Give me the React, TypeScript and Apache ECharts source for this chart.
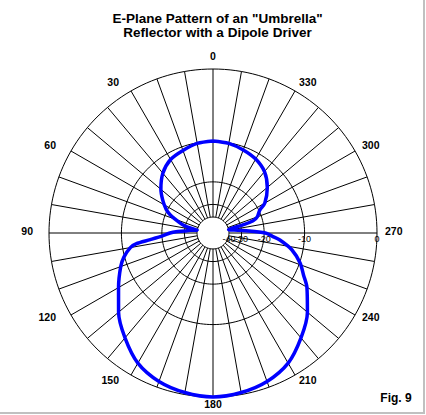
import { useEffect, useRef } from 'react';
import * as echarts from 'echarts';

// ---- data ----
const titleLines = ['E-Plane Pattern of an "Umbrella"', 'Reflector with a Dipole Driver'];
const figLabel = 'Fig. 9';

// pattern: angle (deg, CCW from top) and relative gain (dB)
const patternAngles = [
  0, 10, 20, 30, 40, 50, 57, 63, 67, 73, 76, 80,
  83, 86, 88, 90, 93, 96, 98, 100, 105, 110, 120, 130, 140, 150, 160, 170,
  180, 190, 200, 210, 220, 230, 240, 245, 251, 258, 264, 267, 270, 274, 278, 282,
  285, 287, 290, 296, 300, 310, 320, 330, 340, 350, 360,
];
const patternDb = [
  -9.9, -10.1, -10.7, -11.3, -12.75, -15.1, -17.3, -19.5, -21.6, -26.7, -30, -40,
  -34, -30, -25.5, -23, -20.4, -16.4, -12.8, -11.5, -9.9, -8.8, -7.0, -4.9, -3.1, -1.5, -0.64, -0.21,
  0, -0.21, -0.64, -1.5, -3.1, -4.9, -7.1, -8.5, -9.9, -12.2, -15.3, -17.5, -19.6, -27.5, -35, -40,
  -29, -23.4, -21.4, -19.7, -17.3, -14.4, -12.3, -11.2, -10.6, -10.1, -9.9,
];

const ringDb = [0, -10, -20, -30, -40];
const ringLabels = ['0', '-10', '-20', '-30', '-40'];
const angleLabels = [0, 30, 60, 90, 120, 150, 180, 210, 240, 270, 300, 330];
const spokeStep = 10;
const minDb = -40;

// ARRL log-periodic scale: each 2 dB is 0.89 of radius
const dbToR = (db: number) => Math.pow(0.89, -Math.max(db, minDb) / 2);

const R_PX = 164;
const LABEL_GAP = 8;

export default function App() {
  const ref = useRef<HTMLDivElement>(null);

  useEffect(() => {
    document.body.style.margin = '0';
    if (!ref.current) return;
    const chart = echarts.init(ref.current, null, { renderer: 'svg' });

    const series: any[] = [];

    // rings
    ringDb.forEach((db) => {
      const pts: number[][] = [];
      for (let a = 0; a <= 360; a += 2) pts.push([dbToR(db), a]);
      series.push({
        type: 'line',
        coordinateSystem: 'polar',
        data: pts,
        showSymbol: false,
        silent: true,
        lineStyle: { color: '#000', width: 1 },
        z: 1,
      });
    });

    // spokes
    for (let a = 0; a < 360; a += spokeStep) {
      series.push({
        type: 'line',
        coordinateSystem: 'polar',
        data: [
          [dbToR(minDb), a],
          [1, a],
        ],
        showSymbol: false,
        silent: true,
        lineStyle: { color: '#000', width: 1 },
        z: 1,
      });
    }

    // pattern
    series.push({
      type: 'line',
      coordinateSystem: 'polar',
      data: patternAngles.map((a, i) => [dbToR(patternDb[i]), a]),
      showSymbol: false,
      smooth: 0.3,
      silent: true,
      lineStyle: { color: '#0000ff', width: 3.5 },
      z: 5,
    });

    // angle labels
    const labelR = (R_PX + LABEL_GAP) / R_PX;
    series.push({
      type: 'scatter',
      coordinateSystem: 'polar',
      data: angleLabels.map((a) => {
        const rad = (a * Math.PI) / 180;
        const dx = -Math.sin(rad);
        const dy = -Math.cos(rad);
        let align = 'center';
        let ox = 0;
        if (dx > 0.3) align = 'left';
        else if (dx < -0.3) {
          align = 'right';
          ox = -8;
        }
        let verticalAlign = 'middle';
        let oy = -2;
        if (dy < -0.9) {
          verticalAlign = 'bottom';
          oy = 0;
        } else if (dy > 0.9) oy = -1;
        return {
          value: [labelR, a],
          name: String(a),
          label: { align, verticalAlign, offset: [ox, oy] },
        };
      }),
      symbolSize: 1,
      itemStyle: { color: 'rgba(0,0,0,0)' },
      silent: true,
      label: {
        show: true,
        position: 'inside',
        formatter: (p: any) => p.name,
        color: '#000',
        opacity: 1,
        fontFamily: 'Liberation Sans',
        fontWeight: 'bold',
        fontSize: 10.5,
      },
      z: 6,
    });

    // radial dB labels along 270
    series.push({
      type: 'scatter',
      coordinateSystem: 'polar',
      data: ringDb.map((db, i) => ({ value: [dbToR(db), 270], name: ringLabels[i] })),
      symbolSize: 1,
      itemStyle: { color: 'rgba(0,0,0,0)' },
      silent: true,
      label: {
        show: true,
        position: 'bottom',
        distance: 1,
        formatter: (p: any) => p.name,
        color: '#000',
        opacity: 1,
        fontFamily: 'Liberation Sans',
        fontSize: 9,
      },
      z: 6,
    });

    chart.setOption({
      animation: false,
      backgroundColor: '#fff',
      polar: { center: [213, 233], radius: R_PX * 1.1 },
      radiusAxis: {
        type: 'value',
        min: 0,
        max: 1.1,
        show: false,
        axisLine: { show: false },
        axisTick: { show: false },
        axisLabel: { show: false },
        splitLine: { show: false },
      },
      angleAxis: {
        type: 'value',
        min: 0,
        max: 360,
        interval: 30,
        startAngle: 90,
        clockwise: false,
        axisLine: { show: false },
        axisTick: { show: false },
        axisLabel: { show: false },
        splitLine: { show: false },
      },
      graphic: [
        ...titleLines.map((t, i) => ({
          type: 'text',
          x: 217.5,
          y: 18 + i * 14,
          style: {
            text: t,
            fill: '#000',
            font: 'bold 13.5px "Liberation Sans"',
            textAlign: 'center',
            textVerticalAlign: 'middle',
            verticalAlign: 'middle',
          },
        })),
        {
          type: 'text',
          x: 396,
          y: 398,
          style: {
            text: figLabel,
            fill: '#000',
            font: 'bold 12px "Liberation Sans"',
            textAlign: 'center',
            textVerticalAlign: 'middle',
            verticalAlign: 'middle',
          },
        },
        {
          type: 'line',
          shape: { x1: 424, y1: 0, x2: 424, y2: 414 },
          style: { stroke: '#c0c0c0', lineWidth: 2 },
        },
        {
          type: 'line',
          shape: { x1: 0, y1: 413, x2: 425, y2: 413 },
          style: { stroke: '#c0c0c0', lineWidth: 2 },
        },
      ],
      series,
    });

    return () => chart.dispose();
  }, []);

  return <div ref={ref} style={{ width: 426, height: 415 }} />;
}
